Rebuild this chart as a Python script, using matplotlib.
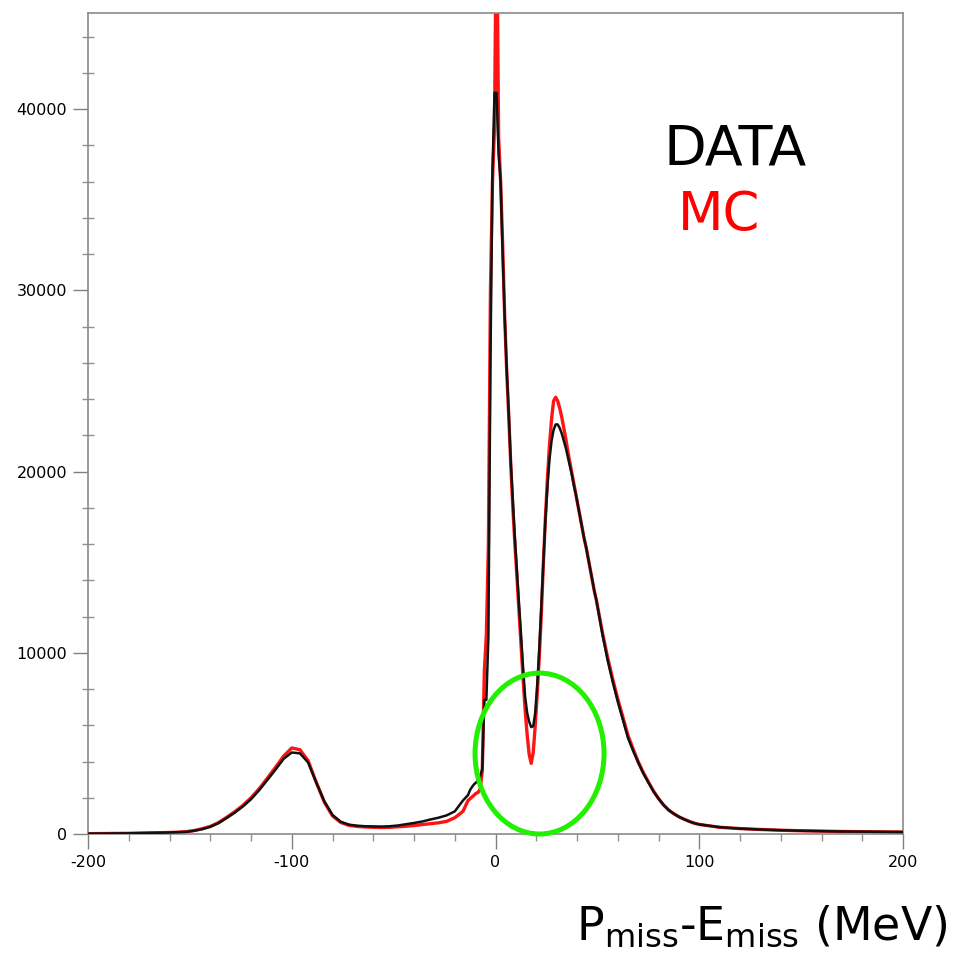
import numpy as np
import matplotlib
matplotlib.use("Agg")
import matplotlib.pyplot as plt
from matplotlib.patches import Ellipse
from matplotlib.ticker import MultipleLocator

plt.rcParams["axes.unicode_minus"] = False

# bin centres (MeV): coarse in the tails, 1 MeV around the peaks
x_tail_lo = [-200, -190, -180, -170, -160]
x_rise = list(range(-156, -79, 4))
x_flat = list(range(-76, -15, 4))
x_peak = list(np.arange(-13.5, 50, 1.0))
x_fall = list(np.arange(52.5, 100.1, 2.5))
x_tail_hi = list(range(110, 201, 10))
x = np.array(x_tail_lo + x_rise + x_flat + x_peak + x_fall + x_tail_hi, dtype=float)

data_tail_lo = [20, 30, 40, 60, 85]
data_rise = [100, 120, 180, 270, 400, 600, 880, 1180, 1520, 1920,
             2420, 2980, 3550, 4150, 4500, 4450, 3950, 2850, 1800, 1050]
data_flat = [680, 520, 460, 430, 420, 410, 430, 470, 540, 610,
             690, 800, 900, 1030, 1250, 1850]
data_peak = [2150, 2430, 2600, 2750, 2850, 2980, 3200, 3600, 7400, 7400,
             10900, 26000, 36600, 40900, 40900, 37500, 36000, 32000, 28500, 25600,
             23200, 20500, 18400, 16300, 14500, 12700, 11000, 9200, 7600, 6700,
             6200, 5900, 5950, 6700, 8300, 10300, 12700, 15200, 17400, 19200,
             20700, 21700, 22300, 22600, 22600, 22400, 22100, 21700, 21300, 20800,
             20300, 19800, 19200, 18700, 18100, 17500, 16900, 16300, 15800, 15200,
             14600, 14000, 13400, 12900]
data_fall = [11000, 9600, 8400, 7300, 6300, 5300, 4600, 3950, 3350, 2850,
             2350, 1950, 1600, 1320, 1120, 950, 820, 700, 600, 530]
data_tail_hi = [380, 300, 250, 210, 180, 160, 140, 130, 120, 110]

mc_tail_lo = [20, 30, 40, 60, 85]
mc_rise = [100, 125, 190, 290, 420, 630, 920, 1230, 1580, 2000,
           2500, 3080, 3680, 4300, 4750, 4650, 4050, 2850, 1750, 1000]
mc_flat = [640, 480, 420, 390, 370, 360, 370, 400, 430, 470,
           520, 570, 620, 700, 900, 1250]
mc_peak = [1850, 1950, 2050, 2150, 2250, 2300, 2500, 3500, 9000, 11000,
           16000, 30000, 36000, 39000, 52000, 38500, 36000, 32500, 28500, 25500,
           23000, 20300, 18000, 16000, 14200, 12300, 10500, 8600, 6900, 5500,
           4400, 3900, 4500, 6000, 7800, 9800, 12200, 15000, 17500, 19700,
           21500, 22900, 23900, 24100, 23900, 23500, 23000, 22400, 21800, 21100,
           20500, 19900, 19300, 18700, 18100, 17500, 16900, 16300, 15800, 15200,
           14600, 14000, 13400, 12900]
mc_fall = [11100, 9750, 8550, 7450, 6450, 5450, 4700, 4000, 3400, 2880,
           2380, 1960, 1600, 1320, 1120, 950, 820, 700, 600, 530]
mc_tail_hi = [370, 300, 250, 210, 180, 160, 140, 130, 120, 110]

data = np.array(data_tail_lo + data_rise + data_flat + data_peak + data_fall + data_tail_hi)
mc = np.array(mc_tail_lo + mc_rise + mc_flat + mc_peak + mc_fall + mc_tail_hi)

fig = plt.figure(figsize=(9.57, 9.58), dpi=100)
ax = fig.add_axes([0.092, 0.1294, 0.8516, 0.857])

ax.plot(x, mc, color="#ff1414", lw=2.4, zorder=2)
ax.plot(x, data, color="#111111", lw=1.8, zorder=3)

# highlighted region round the valley
ax.add_patch(Ellipse((21.6, 4440), 63.3, 8880, fill=False, edgecolor="#22f000",
                     lw=3.6, zorder=4, clip_on=False))

ax.set_xlim(-200, 200)
ax.set_ylim(0, 45300)
ax.xaxis.set_major_locator(MultipleLocator(100))
ax.xaxis.set_minor_locator(MultipleLocator(20))
ax.yaxis.set_major_locator(MultipleLocator(10000))
ax.yaxis.set_minor_locator(MultipleLocator(2000))
ax.tick_params(which="major", length=11, width=1, color="#808080",
               labelsize=11.5, pad=4)
ax.tick_params(which="minor", length=5, width=1, color="#909090")
ax.tick_params(axis="y", which="minor", direction="inout", length=9)
for s in ax.spines.values():
    s.set_color("#8a8a8a")
    s.set_linewidth(1.2)

fig.text(0.693, 0.828, "DATA", fontsize=40, color="black", ha="left", va="baseline")
fig.text(0.708, 0.760, "MC", fontsize=38, color="#ff0000", ha="left", va="baseline")
fig.text(0.99, 0.019, r"P$_{\mathrm{miss}}$-E$_{\mathrm{miss}}$ (MeV)",
         fontsize=33, ha="right", va="baseline")

fig.savefig("out.png", dpi=100)
